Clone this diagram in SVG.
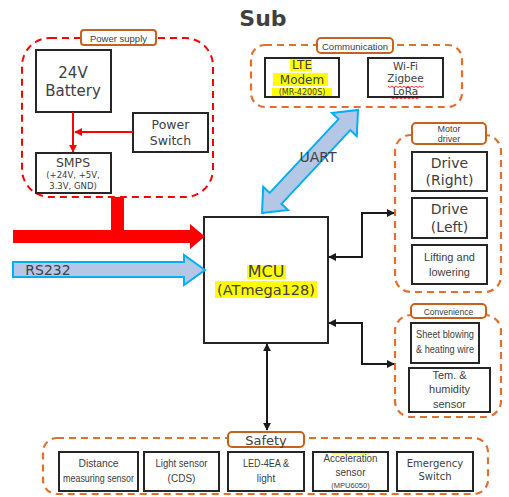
<svg xmlns="http://www.w3.org/2000/svg" width="509" height="497" viewBox="0 0 509 497">
<defs>
<style>
.bx{fill:#fff;stroke:#262626;stroke-width:2}
.dsh{fill:none;stroke:#e2702d;stroke-width:2.2;stroke-dasharray:7 5}
.dshr{fill:none;stroke:#ff0000;stroke-width:2;stroke-dasharray:7 5}
.lbl{fill:#fff;stroke:#c8601e;stroke-width:2}
.t{font-family:"DejaVu Sans","Liberation Sans",sans-serif;fill:#404040;text-anchor:middle}
.a{font-family:"Liberation Sans",Arial,sans-serif;fill:#404040;text-anchor:middle}
.hl{fill:#ffff00}
.con{fill:none;stroke:#1a1a1a;stroke-width:2}
.wav{fill:none;stroke:#ff0000;stroke-width:0.8}
</style>
<marker id="ah" viewBox="0 0 10 10" refX="9" refY="5" markerWidth="4" markerHeight="4" orient="auto-start-reverse">
<path d="M0,0 L10,5 L0,10 Z" fill="#1a1a1a"/>
</marker>
<marker id="rh" viewBox="0 0 10 10" refX="9" refY="5" markerWidth="4" markerHeight="4" orient="auto">
<path d="M0,0 L10,5 L0,10 Z" fill="#ff0000"/>
</marker>
</defs>
<rect width="509" height="497" fill="#fff"/>

<text x="263" y="26" class="t" font-size="22" font-weight="bold" fill="#111">Sub</text>

<!-- Power supply group -->
<g id="power-supply">
<rect x="22" y="38" width="191" height="159" rx="28" class="dshr"/>
<rect x="81" y="30" width="75" height="15" rx="3" class="lbl"/>
<text x="118.5" y="41.5" class="a" font-size="9.5" fill="#262626">Power supply</text>
</g>
<g id="battery">
<rect x="36" y="50" width="75" height="62" class="bx"/>
<text x="73" y="77.5" class="t" font-size="15">24V</text>
<text x="73" y="95.5" class="t" font-size="15">Battery</text>
</g>
<g id="power-switch">
<rect x="133" y="113" width="75" height="39" class="bx"/>
<text x="170.5" y="129" class="t" font-size="12.5">Power</text>
<text x="170.5" y="145" class="t" font-size="12.5">Switch</text>
</g>
<g id="smps">
<rect x="36" y="153" width="75" height="40" class="bx"/>
<text x="73" y="167" class="t" font-size="12.5">SMPS</text>
<text x="73" y="178" class="t" font-size="8.5">(+24V, +5V,</text>
<text x="73" y="188.5" class="t" font-size="8.5">3.3V, GND)</text>
</g>

<!-- Communication -->
<g id="communication">
<rect x="251" y="45" width="211" height="62" rx="14" class="dsh"/>
<rect x="317" y="38" width="76" height="15" rx="4" class="lbl"/>
<text x="355" y="49.5" class="a" font-size="9.5" fill="#262626">Communication</text>
</g>
<g id="lte-modem">
<rect x="265" y="58" width="74" height="39" class="bx"/>
<rect x="290" y="59" width="22" height="12" class="hl"/>
<rect x="273" y="73" width="55" height="13" class="hl"/>
<rect x="272" y="88" width="60" height="8" class="hl"/>
<text x="302" y="69" class="t" font-size="12" fill="#111">LTE</text>
<text x="302" y="84" class="t" font-size="12" fill="#111">Modem</text>
<text x="302" y="95" class="t" font-size="8" fill="#2e9bd0">(MR-4200S)</text>
</g>
<g id="wireless">
<rect x="368" y="58" width="75" height="39" class="bx"/>
<text x="405.5" y="69.5" class="t" font-size="10.5">Wi-Fi</text>
<text x="405.5" y="82" class="t" font-size="10.5">Zigbee</text>
<text x="405.5" y="95" class="t" font-size="10.5">LoRa</text>
<path class="wav" d="M388,86 l2,1.5 l2,-1.5 l2,1.5 l2,-1.5 l2,1.5 l2,-1.5 l2,1.5 l2,-1.5 l2,1.5 l2,-1.5 l2,1.5 l2,-1.5 l2,1.5 l2,-1.5 l2,1.5 l2,-1.5 l2,1.5 l2,-1.5"/>
<path class="wav" d="M391,97.5 l2,1.5 l2,-1.5 l2,1.5 l2,-1.5 l2,1.5 l2,-1.5 l2,1.5 l2,-1.5 l2,1.5 l2,-1.5 l2,1.5 l2,-1.5 l2,1.5 l2,-1.5"/>
</g>

<!-- MCU -->
<g id="mcu">
<rect x="204" y="217" width="124" height="126" class="bx"/>
<rect x="247" y="265" width="39" height="14" class="hl"/>
<rect x="215" y="281" width="102" height="17" class="hl"/>
<text x="266" y="277" class="t" font-size="16" fill="#111">MCU</text>
<text x="266" y="295" class="t" font-size="14.5" fill="#2e86c1">(ATmega128)</text>
</g>

<!-- Motor driver -->
<g id="motor-driver">
<rect x="395" y="135" width="106" height="157" rx="16" class="dsh"/>
<rect x="412" y="123" width="74" height="21" rx="4" class="lbl"/>
<text x="449" y="131.5" class="a" font-size="9">Motor</text>
<text x="449" y="142" class="a" font-size="9">driver</text>
</g>
<g id="drive-right">
<rect x="412" y="152" width="75" height="39" class="bx"/>
<text x="449.5" y="168" class="t" font-size="14">Drive</text>
<text x="449.5" y="185" class="t" font-size="14">(Right)</text>
</g>
<g id="drive-left">
<rect x="412" y="198" width="75" height="40" class="bx"/>
<text x="449.5" y="214" class="t" font-size="14">Drive</text>
<text x="449.5" y="232" class="t" font-size="14">(Left)</text>
</g>
<g id="lifting">
<rect x="412" y="245" width="75" height="39" class="bx"/>
<text x="449.5" y="261" class="a" font-size="11">Lifting and</text>
<text x="449.5" y="276" class="a" font-size="11">lowering</text>
</g>

<!-- Convenience -->
<g id="convenience">
<rect x="395" y="315" width="106" height="102" rx="16" class="dsh"/>
<rect x="411" y="304" width="75" height="14" rx="4" class="lbl"/>
<text x="448.5" y="314.5" class="a" font-size="8.5">Convenience</text>
</g>
<g id="sheet-blowing">
<rect x="411" y="323" width="68" height="40" class="bx"/>
<text x="445" y="338" class="a" font-size="10" textLength="58" lengthAdjust="spacingAndGlyphs">Sheet blowing</text>
<text x="445" y="353" class="a" font-size="10" textLength="58" lengthAdjust="spacingAndGlyphs">&amp; heating wire</text>
</g>
<g id="temp-humidity">
<rect x="409" y="368" width="81" height="44" class="bx"/>
<text x="449.5" y="379" class="a" font-size="11">Tem. &amp;</text>
<text x="449.5" y="393" class="a" font-size="11">humidity</text>
<text x="449.5" y="408" class="a" font-size="11">sensor</text>
</g>

<!-- Safety -->
<g id="safety">
<rect x="43" y="438" width="445" height="56" rx="14" class="dsh"/>
<rect x="228" y="432" width="76" height="15" rx="4" class="lbl"/>
<text x="266" y="444.5" class="t" font-size="13" fill="#262626">Safety</text>
</g>
<g id="distance-sensor">
<rect x="59" y="452" width="79" height="39" class="bx"/>
<text x="98.5" y="467" class="a" font-size="10" textLength="40" lengthAdjust="spacingAndGlyphs">Distance</text>
<text x="98.5" y="482" class="a" font-size="10" textLength="71" lengthAdjust="spacingAndGlyphs">measuring sensor</text>
</g>
<g id="light-sensor">
<rect x="144" y="452" width="75" height="39" class="bx"/>
<text x="181.5" y="467" class="a" font-size="10" textLength="52" lengthAdjust="spacingAndGlyphs">Light sensor</text>
<text x="181.5" y="482" class="a" font-size="10">(CDS)</text>
</g>
<g id="led">
<rect x="228" y="452" width="76" height="39" class="bx"/>
<text x="266" y="467" class="a" font-size="10" textLength="46" lengthAdjust="spacingAndGlyphs">LED-4EA &amp;</text>
<text x="266" y="482" class="a" font-size="10">light</text>
</g>
<g id="acceleration-sensor">
<rect x="313" y="452" width="75" height="39" class="bx"/>
<rect x="332" y="453" width="38" height="1.5" class="hl"/>
<text x="350.5" y="462" class="a" font-size="10" textLength="54" lengthAdjust="spacingAndGlyphs">Acceleration</text>
<text x="350.5" y="476" class="a" font-size="10">sensor</text>
<text x="350.5" y="488" class="a" font-size="7.5">(MPU6050)</text>
</g>
<g id="emergency-switch">
<rect x="397" y="452" width="76" height="39" class="bx"/>
<text x="435" y="467" class="t" font-size="10">Emergency</text>
<text x="435" y="480" class="t" font-size="10">Switch</text>
</g>

<!-- Connectors -->
<g id="connectors">
<line x1="73" y1="112" x2="73" y2="152" stroke="#ff0000" stroke-width="2" marker-end="url(#rh)"/>
<line x1="133" y1="132" x2="75" y2="132" stroke="#ff0000" stroke-width="2" marker-end="url(#rh)"/>
<rect x="111" y="197" width="13" height="36" fill="#ff0000"/>
<path d="M13,230 H190 V224 L205,236.5 L190,249 V243 H13 Z" fill="#ff0000"/>
<path d="M13,262 H184 V255 L205,270 L184,285 V277 H13 Z" fill="#b4c7e7" stroke="#00b0f0" stroke-width="2"/>
<text x="48" y="275" class="t" font-size="14" fill="#333">RS232</text>
<polygon points="262,213 288,210 281.5,203.9 350.3,130.1 356.8,136.2 358,110 332,113 338.5,119.1 269.7,192.9 263.2,186.8" fill="#b4c7e7" stroke="#00b0f0" stroke-width="2" stroke-linejoin="miter"/>
<text x="318" y="162" class="t" font-size="14" fill="#333">UART</text>
<path class="con" d="M329,257 H362 V213 H394" marker-start="url(#ah)" marker-end="url(#ah)"/>
<path class="con" d="M329,323 H362 V364 H394" marker-start="url(#ah)" marker-end="url(#ah)"/>
<line class="con" x1="267" y1="344" x2="267" y2="430" marker-start="url(#ah)" marker-end="url(#ah)"/>
</g>
</svg>
